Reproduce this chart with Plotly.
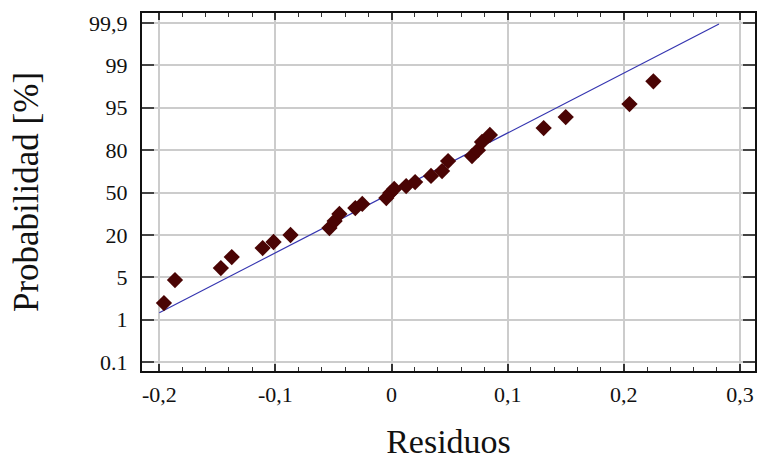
import numpy as np
import plotly.graph_objects as go

# Data
residuos = [-0.196, -0.1865, -0.147, -0.1376, -0.111, -0.1016, -0.087,
            -0.0535, -0.049, -0.0449, -0.0312, -0.0252, -0.0045, -0.0011,
            0.0023, 0.0126, 0.0203, 0.034, 0.0435, 0.0487, 0.0693, 0.0744,
            0.0779, 0.0847, 0.131, 0.150, 0.2049, 0.2255]
probabilidad = [2.57, 4.74, 8.27, 12.17, 15.35, 17.48, 19.96, 24.87, 29.8,
                34.8, 39.0, 41.9, 46.1, 49.6, 52.5, 54.6, 57.4, 61.7, 65.2,
                72.3, 75.8, 80.0, 82.9, 85.4, 87.8, 91.7, 95.35, 97.5]

# Reference (fitted normal) line
ref_x = [-0.2, 0.282]
ref_pct = [1.65, 99.88]

# Probability axis labels
tick_pct = [0.1, 1, 5, 20, 50, 80, 95, 99, 99.9]
tick_text = ["0.1", "1", "5", "20", "50", "80", "95", "99", "99,9"]
x_ticks = [-0.2, -0.1, 0, 0.1, 0.2, 0.3]
x_text = ["-0,2", "-0,1", "0", "0,1", "0,2", "0,3"]

tick_pos = list(range(len(tick_pct)))


def prob_scale(p):
    return np.interp(p, tick_pct, tick_pos)


fig = go.Figure()
fig.add_trace(go.Scatter(
    x=ref_x, y=prob_scale(ref_pct), mode="lines",
    line=dict(color="#3535b0", width=1.2), hoverinfo="skip", showlegend=False))
fig.add_trace(go.Scatter(
    x=residuos, y=prob_scale(probabilidad), mode="markers",
    marker=dict(symbol="diamond", size=12.5, color="#4a0404",
                line=dict(width=0)),
    showlegend=False))

serif = "Liberation Serif, Times New Roman, serif"
fig.update_layout(
    width=757, height=460,
    margin=dict(l=142, r=0, t=13, b=89),
    plot_bgcolor="white", paper_bgcolor="white",
    font=dict(family=serif, color="#111111", size=22),
)
fig.update_xaxes(
    range=[-0.2149, 0.313],
    tickvals=x_ticks, ticktext=x_text,
    showgrid=True, gridcolor="#cccccc", gridwidth=1.5,
    zeroline=False,
    showline=True, linecolor="#111111", linewidth=2, mirror="ticks",
    ticks="inside", ticklen=7, tickwidth=1.5, tickcolor="#333333",
    minor=dict(dtick=0.02, ticks="inside", ticklen=4, tickwidth=1,
               tickcolor="#333333", showgrid=False),
    tickfont=dict(family=serif, size=22, color="#111111"),
    ticklabelstandoff=3,
    title=dict(text="Residuos", font=dict(family=serif, size=34, color="#111111"),
               standoff=25),
)
fig.update_yaxes(
    range=[-0.212, 8.236],
    tickvals=tick_pos, ticktext=tick_text,
    showgrid=True, gridcolor="#cccccc", gridwidth=1.5,
    zeroline=False,
    showline=True, linecolor="#111111", linewidth=2, mirror="ticks",
    ticks="inside", ticklen=12, tickwidth=2, tickcolor="#444444",
    tickfont=dict(family=serif, size=22, color="#111111"),
    ticklabelstandoff=8,
    title=dict(text="Probabilidad [%]", font=dict(family=serif, size=35, color="#111111"),
               standoff=40),
)

fig.write_html("out.html")
